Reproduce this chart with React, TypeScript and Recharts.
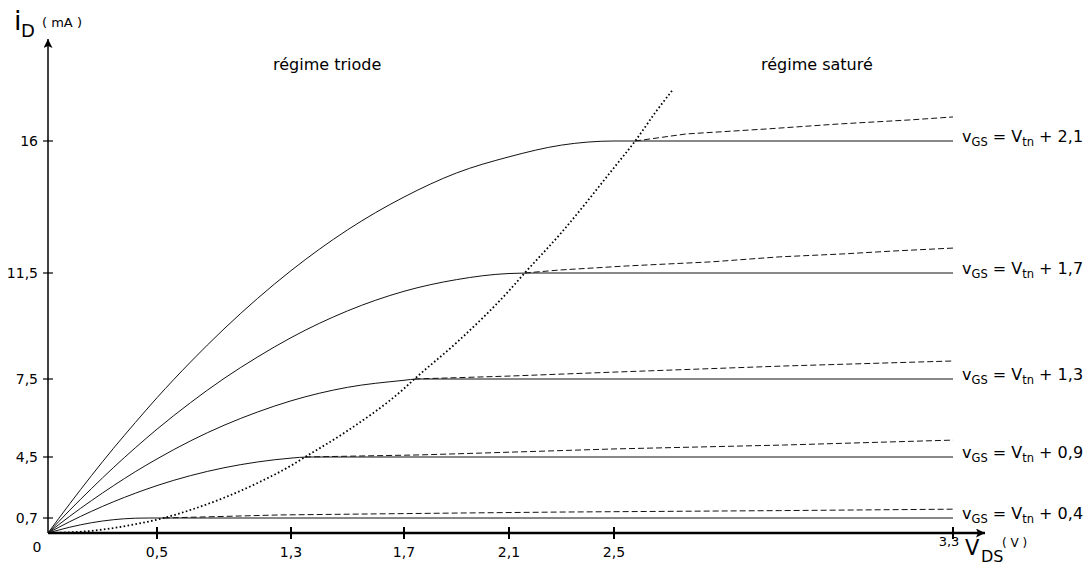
import React from 'react';
import { LineChart, Line, XAxis, YAxis } from 'recharts';

// ---- tick labels ----
const xTickValues = [0.5, 1.3, 1.7, 2.1, 2.5, 3.3];
const xTickLabels = ['0,5', '1,3', '1,7', '2,1', '2,5', '3,3'];
const yTickValues = [0.7, 4.5, 7.5, 11.5, 16];
const yTickLabels = ['0,7', '4,5', '7,5', '11,5', '16'];
const overdriveLabels = ['0,4', '0,9', '1,3', '1,7', '2,1'];

// ---- triode region + saturation plateau (solid) : vDS (V), iD (mA) ----
const vA = [0, 0.1, 0.2, 0.3, 0.4, 0.46, 3.3];
const iA = [0, 0.27, 0.48, 0.62, 0.69, 0.7, 0.7];
const vB = [0, 0.1, 0.2, 0.3, 0.4, 0.5, 0.7, 0.9, 1.1, 1.3, 1.36, 3.3];
const iB = [0, 0.53, 1.12, 1.71, 2.24, 2.72, 3.34, 3.83, 4.19, 4.43, 4.5, 4.5];
const vC = [0, 0.1, 0.2, 0.3, 0.4, 0.5, 0.7, 0.9, 1.1, 1.3, 1.5, 1.7, 1.75, 3.3];
const iC = [0, 0.81, 1.79, 2.71, 3.58, 4.38, 5.12, 5.72, 6.23, 6.66, 7.18, 7.45, 7.5, 7.5];
const vD = [0, 0.1, 0.2, 0.3, 0.4, 0.5, 0.7, 0.9, 1.1, 1.3, 1.5, 1.7, 1.9, 2.1, 2.2, 3.3];
const iD = [0, 1.19, 2.54, 3.84, 4.85, 5.57, 6.59, 7.52, 8.33, 9.06, 10.07, 10.81, 11.25, 11.48, 11.5, 11.5];
const vE = [0, 0.1, 0.2, 0.3, 0.4, 0.5, 0.7, 0.9, 1.1, 1.3, 1.5, 1.7, 1.9, 2.1, 2.3, 2.5, 3.3];
const iE = [0, 1.59, 3.35, 4.83, 5.82, 6.78, 8.14, 9.39, 10.54, 11.58, 12.97, 14.09, 14.91, 15.46, 15.86, 16, 16];

// ---- saturation with channel-length modulation (dashed) ----
const vAd = [0.54, 1.23, 1.57, 1.91, 2.29, 2.89, 3.3];
const iAd = [0.7, 0.89, 0.95, 1.01, 1.07, 1.16, 1.25];
const vBd = [1.35, 1.76, 1.99, 2.5, 2.9, 3.3];
const iBd = [4.5, 4.58, 4.65, 4.81, 4.96, 5.15];
const vCd = [1.74, 2.1, 2.5, 2.9, 3.3];
const iCd = [7.5, 7.61, 7.76, 7.99, 8.18];
const vDd = [2.16, 2.29, 2.53, 2.73, 2.89, 3.04, 3.16, 3.3];
const iDd = [11.5, 11.6, 11.74, 11.88, 12.05, 12.15, 12.25, 12.35];
const vEd = [2.55, 2.67, 2.86, 3.03, 3.2, 3.3];
const iEd = [16, 16.24, 16.41, 16.58, 16.72, 16.82];

// ---- boundary triode / saturation (dotted) ----
const vSat = [0, 0.2, 0.4, 0.54, 0.7, 0.9, 1.1, 1.3, 1.35, 1.5, 1.7, 1.74, 1.9, 2.1, 2.16, 2.3, 2.5, 2.55, 2.6, 2.64];
const iSat = [0, 0.1, 0.41, 0.7, 1.2, 1.96, 2.88, 3.96, 4.5, 5.51, 7.13, 7.5, 8.87, 10.83, 11.5, 12.88, 15.09, 16, 17.02, 17.77];

// The reference axes are hand-graduated (not linear): each graduation sits
// at its own place along the axis. This piecewise axis scale reproduces it.
const xScaleStops = [0, 109, 243, 356, 461, 566, 905];
const yScaleStops = [0, 15, 76, 154, 260, 392];
const X_DOMAIN_MAX = 937;
const Y_DOMAIN_MAX = 494;

const piecewise = (v: number, from: number[], to: number[]) => {
  let k = 0;
  while (k < from.length - 2 && v > from[k + 1]) k++;
  const t = (v - from[k]) / (from[k + 1] - from[k]);
  return to[k] + t * (to[k + 1] - to[k]);
};
const sx = (v: number) => piecewise(v, [0, ...xTickValues], xScaleStops);
const sy = (v: number) => piecewise(v, [0, ...yTickValues], yScaleStops);

const build = (vs: number[], is: number[]) => vs.map((v, k) => ({ x: sx(v), y: sy(is[k]) }));

const FONT = 'DejaVu Sans, Verdana, sans-serif';

const solidSeries = [
  build(vA, iA),
  build(vB, iB),
  build(vC, iC),
  build(vD, iD),
  build(vE, iE),
];
const dashedSeries = [
  build(vAd, iAd),
  build(vBd, iBd),
  build(vCd, iCd),
  build(vDd, iDd),
  build(vEd, iEd),
];
const satSeries = build(vSat, iSat);

const XTick = (props: any) => {
  const { x, y, index } = props;
  const label = xTickLabels[index];
  const last = index === xTickLabels.length - 1;
  return (
    <g>
      <line x1={x} x2={x} y1={y - 6} y2={y + 6} stroke="#000" strokeWidth={2} />
      {last ? (
        <text x={x - 4} y={y + 13} fontSize={13} textAnchor="middle" fontFamily={FONT} fill="#000">
          {label}
        </text>
      ) : (
        <text x={x} y={y + 24} fontSize={14} textAnchor="middle" fontFamily={FONT} fill="#000">
          {label}
        </text>
      )}
    </g>
  );
};

const YTick = (props: any) => {
  const { x, y, index } = props;
  return (
    <g>
      <line x1={x - 5} x2={x + 5} y1={y} y2={y} stroke="#000" strokeWidth={1.2} />
      <text x={x - 10} y={y + 5} fontSize={14} textAnchor="end" fontFamily={FONT} fill="#000">
        {yTickLabels[index]}
      </text>
    </g>
  );
};

const makeEndLabel = (n: number, text: string) => (props: any) => {
  if (props.index !== n - 1) return null;
  const vb = props.viewBox || {};
  const px = vb.x ?? props.x;
  const py = vb.y ?? props.y;
  return (
    <text x={px + 9} y={py + 1} fontSize={16} fontFamily={FONT} fill="#000" style={{ whiteSpace: 'pre' }}>
      v<tspan fontSize={11.5} dy={4}>GS</tspan>
      <tspan dy={-4}>{' = V'}</tspan>
      <tspan fontSize={11.5} dy={4}>tn</tspan>
      <tspan dy={-4}>{' + ' + text}</tspan>
    </text>
  );
};

export default function App() {
  return (
    <div style={{ position: 'absolute', left: 0, top: 0, width: 1088, height: 572, background: '#fff' }}>
      <svg width={0} height={0} style={{ position: 'absolute' }}>
        <defs>
          <marker
            id="axisArrow"
            markerWidth={10}
            markerHeight={10}
            refX={9}
            refY={4.5}
            orient="auto-start-reverse"
            markerUnits="userSpaceOnUse"
          >
            <path d="M0,0 L9,4.5 L0,9 L2,4.5 Z" fill="#000" />
          </marker>
        </defs>
      </svg>
      <LineChart
        width={1088}
        height={572}
        margin={{ top: 39, right: 103, bottom: 38, left: 47 }}
        style={{ fontFamily: FONT }}
      >
        <XAxis
          dataKey="x"
          type="number"
          domain={[0, X_DOMAIN_MAX]}
          ticks={xTickValues.map(sx)}
          interval={0}
          height={1}
          tickSize={0}
          tickMargin={0}
          tickLine={false}
          tick={<XTick />}
          axisLine={{ stroke: '#000', strokeWidth: 2.5, markerEnd: 'url(#axisArrow)' } as any}
          allowDataOverflow
        />
        <YAxis
          type="number"
          domain={[0, Y_DOMAIN_MAX]}
          ticks={yTickValues.map(sy)}
          interval={0}
          width={1}
          tickSize={0}
          tickMargin={0}
          tickLine={false}
          tick={<YTick />}
          axisLine={{ stroke: '#000', strokeWidth: 1.5, markerStart: 'url(#axisArrow)' } as any}
          allowDataOverflow
        />
        {solidSeries.map((d, k) => (
          <Line
            key={'s' + k}
            data={d}
            dataKey="y"
            type="monotone"
            stroke="#111"
            strokeWidth={1}
            dot={false}
            activeDot={false}
            isAnimationActive={false}
            label={makeEndLabel(d.length, overdriveLabels[k])}
          />
        ))}
        {dashedSeries.map((d, k) => (
          <Line
            key={'d' + k}
            data={d}
            dataKey="y"
            type="linear"
            stroke="#111"
            strokeWidth={1}
            strokeDasharray="6 3"
            dot={false}
            activeDot={false}
            isAnimationActive={false}
          />
        ))}
        <Line
          data={satSeries}
          dataKey="y"
          type="monotone"
          stroke="#000"
          strokeWidth={1.8}
          strokeDasharray="1.6 2.4"
          dot={false}
          activeDot={false}
          isAnimationActive={false}
        />
        <text x={14} y={30} fontSize={27} fontFamily={FONT} fill="#000">i</text>
        <text x={21} y={37} fontSize={18} fontFamily={FONT} fill="#000">D</text>
        <text x={42} y={27} fontSize={13} fontFamily={FONT} fill="#000" style={{ whiteSpace: 'pre' }}>( mA )</text>
        <text x={965} y={555} fontSize={21} fontFamily={FONT} fill="#000">V</text>
        <text x={981} y={562} fontSize={16} fontFamily={FONT} fill="#000">DS</text>
        <text x={1002} y={547} fontSize={12} fontFamily={FONT} fill="#000" style={{ whiteSpace: 'pre' }}>( V )</text>
        <text x={37} y={552} fontSize={14} textAnchor="middle" fontFamily={FONT} fill="#000">0</text>
        <text x={273} y={70} fontSize={16} fontFamily={FONT} fill="#000">régime triode</text>
        <text x={761} y={70} fontSize={16} fontFamily={FONT} fill="#000">régime saturé</text>
      </LineChart>
    </div>
  );
}
